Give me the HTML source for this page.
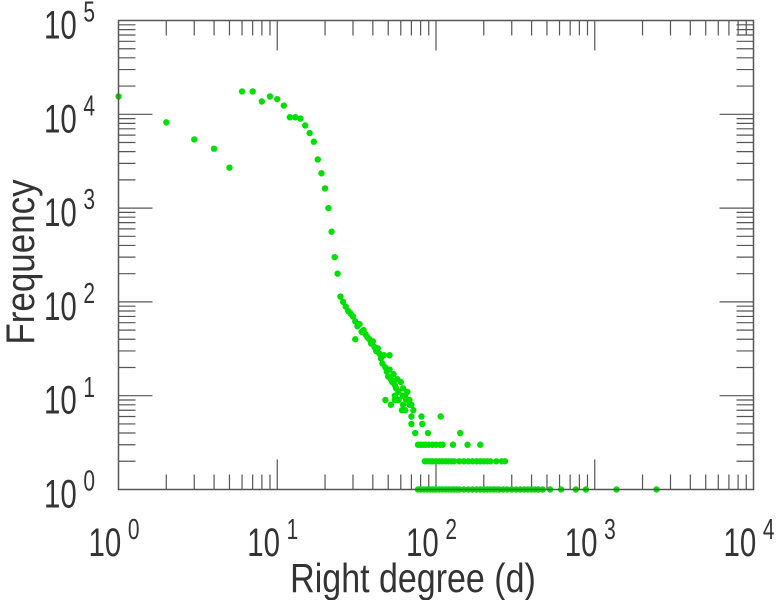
<!DOCTYPE html>
<html><head><meta charset="utf-8"><style>
body{margin:0;background:#fff;}
svg{display:block;font-family:"Liberation Sans",sans-serif;}
</style></head><body>
<svg id="chart" width="779" height="600" viewBox="0 0 779 600">
<g id="ticks"></g>
<g id="pts"></g>
<rect x="118.5" y="20.5" width="635" height="469" fill="none" stroke="#555" stroke-width="1.5"/>
<g id="labels" fill="#333"></g>
<text transform="translate(413,592) scale(1,1.2)" font-size="34" text-anchor="middle" fill="#333">Right degree (d)</text>
<text transform="translate(34,262) rotate(-90) scale(1,1.15)" font-size="35" text-anchor="middle" fill="#333">Frequency</text>
</svg>
<script>
const xTickExps=[0,1,2,3,4];
const yTickExps=[0,1,2,3,4,5];
const degrees=[1,2,3,4,5,6,7,8,9,10,11,12,13,14,15,16,17,18,19,20,21,22,23,24,25,26,27,
28,29,30,31,32,33,34,35,36,37,38,39,40,41,42,43,44,45,46,47,48,49,50,51,52,53,54,55,56,57,58,60,62,64,66,68,70,72,31,51,55,58,62,
77,80,83,86,90,95,100,106,110,128,158,190,
74,89,142,70,82,70,81,107,61,64,48,52,55,58,62,65,68,
85,88,92,95,100,105,110,115,120,125,130,140,150,160,170,180,190,200,210,220,240,260,272,
77,80,84,88,92,96,100,105,110,115,120,125,130,135,140,150,160,170,180,190,200,210,220,230,240,250,265,280,300,320,340,360,380,400,420,440,470,523,614,760,880,1370,2450];
const freqs=[15500,8200,5400,4300,2700,17500,17500,13700,15500,14500,12400,9300,9300,9000,7600,6300,5100,3300,2350,1620,1000,560,300,200,114,100,89,
80,75,70,62,55,58,48,50,45,42,40,36,38,33,30,32,28,25,22,27,20,18,16,19,15,14,17,13,12,15,11,14,12,10,11,9,8,7,40,27,9,9,10,
3,3,3,3,3,3,3,3,3,3,3,3,
4,4,4,5,5,6,6,6,7,7,9,8,10,9,8,9,8,
2,2,2,2,2,2,2,2,2,2,2,2,2,2,2,2,2,2,2,2,2,2,2,
1,1,1,1,1,1,1,1,1,1,1,1,1,1,1,1,1,1,1,1,1,1,1,1,1,1,1,1,1,1,1,1,1,1,1,1,1,1,1,1,1,1,1];
const X0=118.5,X1=753.5,Y0=489.5,Y1=20.5;
const xs=v=>X0+(Math.log10(v)-0)/4*(X1-X0);
const ys=v=>Y0-(Math.log10(v)-0)/5*(Y0-Y1);
const NS='http://www.w3.org/2000/svg';
const tg=document.getElementById('ticks'),pg=document.getElementById('pts'),lg=document.getElementById('labels');
function line(x1,y1,x2,y2){const l=document.createElementNS(NS,'line');
l.setAttribute('x1',x1);l.setAttribute('y1',y1);l.setAttribute('x2',x2);l.setAttribute('y2',y2);
l.setAttribute('stroke','#555');l.setAttribute('stroke-width','1.2');


tg.appendChild(l);}
for(let e=0;e<4;e++)for(let m=1;m<10;m++){const x=xs(m*Math.pow(10,e));const L=m==1?30:15;
if(m==1&&e==0)continue;line(x,Y0,x,Y0-L);line(x,Y1,x,Y1+L);}
for(let e=0;e<5;e++)for(let m=1;m<10;m++){const y=ys(m*Math.pow(10,e));const L=m==1?34:17;
if(m==1&&e==0)continue;line(X0,y,X0+L,y);line(X1,y,X1-L,y);}
function lab(x,y,e,name){const t=document.createElementNS(NS,'text');
t.setAttribute('transform','translate('+x+','+y+') scale(0.95,1.3)');
t.setAttribute('font-size','31');


t.innerHTML='10<tspan font-size="22" dx="7" dy="-13">'+e+'</tspan>';lg.appendChild(t);}
xTickExps.forEach(e=>lab(xs(Math.pow(10,e))-30,556,e,'x-tick-label'));
yTickExps.forEach(e=>lab(44,ys(Math.pow(10,e))+18,e,'y-tick-label'));
degrees.forEach((d,i)=>{const c=document.createElementNS(NS,'circle');
c.setAttribute('cx',xs(d));c.setAttribute('cy',ys(freqs[i]));c.setAttribute('r','3.2');c.setAttribute('fill','#00e000');


pg.appendChild(c);});
</script>
</body></html>
